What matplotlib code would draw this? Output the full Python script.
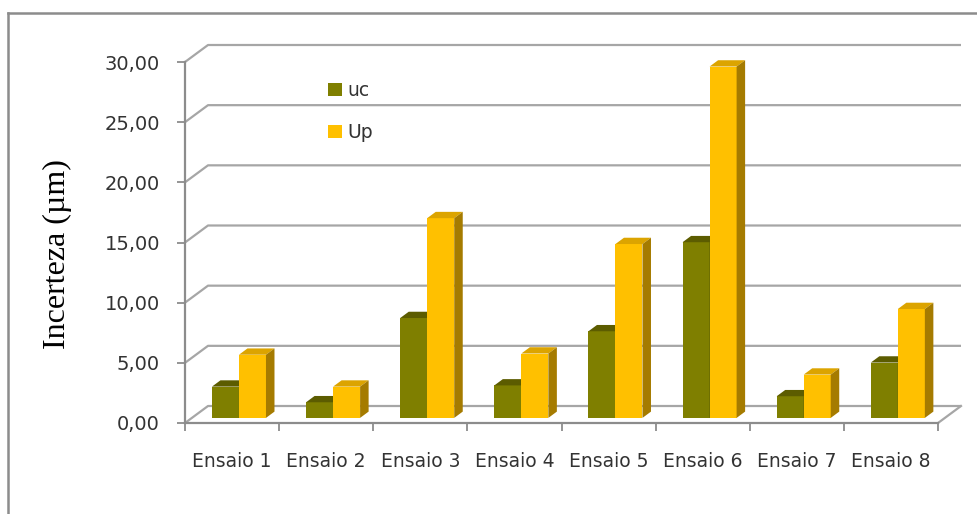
import numpy as np
import matplotlib.pyplot as plt
from matplotlib.patches import Polygon, Patch
from matplotlib.lines import Line2D

categories = ['Ensaio 1', 'Ensaio 2', 'Ensaio 3', 'Ensaio 4',
              'Ensaio 5', 'Ensaio 6', 'Ensaio 7', 'Ensaio 8']
uc = [2.6, 1.3, 8.3, 2.7, 7.2, 14.6, 1.8, 4.6]
Up = [5.25, 2.6, 16.6, 5.35, 14.45, 29.2, 3.6, 9.05]
yticks = [0, 5, 10, 15, 20, 25, 30]
ytick_labels = [f'{v:.2f}'.replace('.', ',') for v in yticks]
series_names = ['uc', 'Up']

# face colours: front, top, side
colors = {
    'uc': ('#7f7f00', '#5c5c00', '#595900'),
    'Up': ('#ffc000', '#dca400', '#a57b00'),
}

W, H = 977, 514
fig = plt.figure(figsize=(W / 100, H / 100), dpi=100)

# pixel frame of the plot
x0_px, x8_px = 185, 938
y0_px, y30_px = 423, 62
px_per_cat = (x8_px - x0_px) / 8
px_per_val = (y0_px - y30_px) / 30
right_px, top_px = 975, 30

ax = fig.add_axes([x0_px / W, (H - y0_px) / H,
                   (right_px - x0_px) / W, (y0_px - top_px) / H])
ax.set_xlim(0, (right_px - x0_px) / px_per_cat)
ax.set_ylim(0, (y0_px - top_px) / px_per_val)
ax.patch.set_alpha(0)
for s in ax.spines.values():
    s.set_visible(False)

# depth of the 3d box, in data units
ddx = 23 / px_per_cat
ddy = 17 / px_per_val
n = len(categories)
grid_c = '#a6a6a6'
axis_c = '#8c8c8c'

# back wall grid with the diagonal to the front axis
for v in yticks:
    ax.plot([0, ddx, n + ddx], [v, v + ddy, v + ddy], color=grid_c,
            lw=1.6, zorder=1, clip_on=False, solid_capstyle='butt')
# floor right edge
ax.plot([n, n + ddx], [0, ddy], color=grid_c, lw=1.6, zorder=1, clip_on=False)
# front axes
ax.plot([0, n], [0, 0], color=axis_c, lw=1.6, zorder=2, clip_on=False)
ax.plot([0, 0], [0, 30], color=axis_c, lw=1.6, zorder=2, clip_on=False)

# bars
gap = 0.213
bw = 0.287
f_front = 0.3
f_depth = 0.37
sx, sy = f_front * ddx, f_front * ddy
bx, by = f_depth * ddx, f_depth * ddy

z = 3
for i in range(n):
    for j, (name, vals) in enumerate(zip(series_names, [uc, Up])):
        front, top, side = colors[name]
        x = i + gap + j * bw + sx
        y = sy
        h = vals[i]
        ax.bar(x, h, width=bw, bottom=y, align='edge', color=front,
               lw=0, zorder=z)
        ax.add_patch(Polygon([(x, y + h), (x + bw, y + h),
                              (x + bw + bx, y + h + by), (x + bx, y + h + by)],
                             closed=True, color=top, lw=0, zorder=z))
        ax.add_patch(Polygon([(x + bw, y), (x + bw + bx, y + by),
                              (x + bw + bx, y + h + by), (x + bw, y + h)],
                             closed=True, color=side, lw=0, zorder=z))
        z += 1

# ticks
ax.set_xticks(np.arange(n + 1))
ax.set_xticklabels([])
ax.set_xticks(np.arange(n) + 0.5, minor=True)
ax.set_xticklabels(categories, minor=True, fontsize=13.5, color='#333333')
ax.tick_params(axis='x', which='major', length=6, width=1.3, color=axis_c,
               direction='out')
ax.tick_params(axis='x', which='minor', length=0, pad=21)
ax.set_yticks(yticks)
ax.set_yticklabels(ytick_labels, fontsize=14, color='#333333')
ax.tick_params(axis='y', length=6, width=1.3, color=axis_c, pad=12)

fig.text(57 / W, 1 - 254 / H, 'Incerteza (\u00b5m)', rotation=90,
         family='Liberation Serif', fontsize=23, ha='center', va='center')

handles = [Patch(facecolor=colors[s][0], edgecolor='none') for s in series_names]
leg = fig.legend(handles, series_names, loc='upper left',
                 bbox_to_anchor=(319 / W, 1 - 72 / H), frameon=False,
                 fontsize=13.5, handlelength=0.7, handleheight=0.7,
                 handletextpad=0.3, labelspacing=1.2, borderpad=0)
for t in leg.get_texts():
    t.set_color('#333333')

# outer frame (left and top edges)
fig.add_artist(Line2D([8 / W, 8 / W], [0, 1 - 13 / H], color='#8c8c8c', lw=1.8))
fig.add_artist(Line2D([8 / W, 1], [1 - 13 / H, 1 - 13 / H], color='#8c8c8c', lw=1.8))

fig.savefig('out.png', dpi=100)
